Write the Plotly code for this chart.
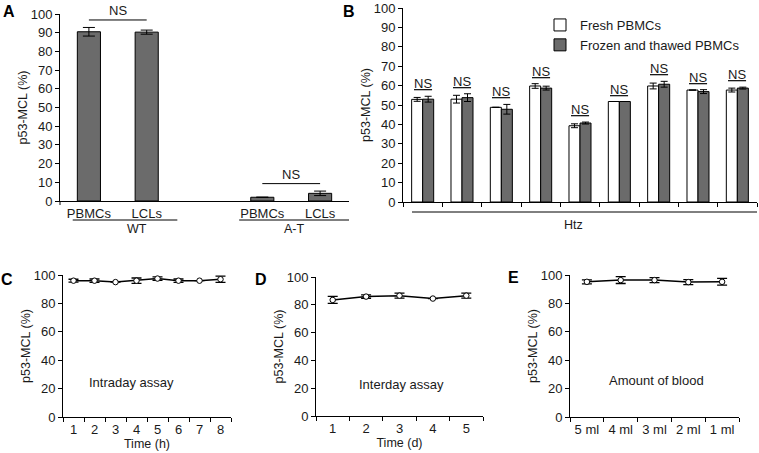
import plotly.graph_objects as go

W, H = 759, 453
FONT = "Liberation Sans, Arial, sans-serif"
INK = "#1a1a1a"
GRAY = "#6b6b6b"

# ---------------- data ----------------
# Panel A
a_groups = ["WT", "A-T"]
a_cats = ["PBMCs", "LCLs", "PBMCs", "LCLs"]
a_pos = [0, 1, 3, 4]
a_vals = [90.5, 90.3, 2.0, 4.1]
a_err = [2.3, 1.1, 0.0, 1.2]

# Panel B
b_samples = [1, 2, 3, 4, 5, 6, 7, 8, 9]
b_fresh = [52.9, 53.0, 48.8, 59.8, 39.3, 51.8, 59.8, 57.7, 57.7]
b_fresh_err = [1.0, 2.0, 0.0, 1.2, 1.0, 0.0, 1.5, 0.0, 1.0]
b_frozen = [53.0, 53.8, 47.8, 58.7, 40.7, 51.8, 60.7, 56.9, 58.7]
b_frozen_err = [1.5, 2.0, 2.5, 1.0, 0.5, 0.0, 1.5, 1.0, 0.5]

# Panel C
c_time = ["1", "2", "3", "4", "5", "6", "7", "8"]
c_vals = [96.0, 96.0, 95.0, 96.0, 97.5, 96.0, 96.0, 97.0]
c_err = [1.0, 1.2, 0.0, 1.9, 1.2, 1.2, 0.0, 2.2]

# Panel D
d_time = ["1", "2", "3", "4", "5"]
d_vals = [83.5, 85.9, 86.6, 84.5, 86.6]
d_err = [2.5, 1.2, 1.8, 0.0, 1.8]

# Panel E
e_amount = ["5 ml", "4 ml", "3 ml", "2 ml", "1 ml"]
e_vals = [95.2, 96.4, 96.4, 95.0, 95.2]
e_err = [1.4, 2.4, 1.7, 1.8, 2.4]


def px_x(p):
    return p / W


def px_y(p):
    return 1 - p / H


fig = go.Figure()

# Panel A bars
fig.add_trace(go.Bar(
    x=a_pos, y=a_vals, width=0.4, xaxis="x", yaxis="y",
    marker=dict(color=GRAY, line=dict(color="black", width=1)),
    error_y=dict(type="data", array=a_err, color="black", thickness=1, width=6),
    showlegend=False, name="A"))

# Panel B bars
fig.add_trace(go.Bar(
    x=b_samples, y=b_fresh, xaxis="x2", yaxis="y2", name="Fresh PBMCs",
    marker=dict(color="white", line=dict(color="black", width=1)),
    error_y=dict(type="data", array=b_fresh_err, color="black", thickness=1, width=3.5)))
fig.add_trace(go.Bar(
    x=b_samples, y=b_frozen, xaxis="x2", yaxis="y2", name="Frozen and thawed PBMCs",
    marker=dict(color=GRAY, line=dict(color="black", width=1)),
    error_y=dict(type="data", array=b_frozen_err, color="black", thickness=1, width=3.5)))

# Panels C, D, E
for xs, ys, es, xa, ya in [(c_time, c_vals, c_err, "x3", "y3"),
                           (d_time, d_vals, d_err, "x4", "y4"),
                           (e_amount, e_vals, e_err, "x5", "y5")]:
    fig.add_trace(go.Scatter(
        x=xs, y=ys, xaxis=xa, yaxis=ya, mode="lines+markers", showlegend=False,
        line=dict(color="black", width=1.5),
        marker=dict(symbol="circle", size=5.5, color="white", line=dict(color="black", width=1)),
        error_y=dict(type="data", array=es, color="black", thickness=1.3, width=5)))

tickfont = dict(family=FONT, size=13, color=INK)
titlefont = dict(family=FONT, size=12.5, color=INK)
base = dict(showline=True, linecolor="black", linewidth=1, showgrid=False, zeroline=False,
            ticks="outside", ticklen=4, tickcolor="black", tickfont=tickfont, automargin=False)

ytitle = dict(text="p53-MCL (%)", font=titlefont, standoff=0)

A_X0, A_X1, A_Y0 = 60, 349, 201

layout = dict(
    width=W, height=H, margin=dict(l=0, r=0, t=0, b=0, autoexpand=False),
    paper_bgcolor="white", plot_bgcolor="white",
    font=dict(family=FONT, size=13, color=INK),
    barmode="group", bargap=0.44, bargroupgap=0,
    legend=dict(x=px_x(540), y=px_y(10), xanchor="left", yanchor="top",
                font=dict(family=FONT, size=13, color=INK), bgcolor="rgba(0,0,0,0)",
                tracegroupgap=0),
    xaxis=dict(base, domain=[px_x(A_X0), px_x(A_X1)], range=[-0.5, 4.5], anchor="y",
               tickvals=a_pos, ticktext=a_cats, ticks="", ticklen=0),
    yaxis=dict(base, domain=[px_y(A_Y0), px_y(14)], range=[0, 100], dtick=10, anchor="x",
               title=ytitle),
    xaxis2=dict(base, domain=[px_x(403), px_x(757)], range=[0.5, 9.5], anchor="y2",
                tickvals=[i + 0.5 for i in range(0, 10)], showticklabels=False),
    yaxis2=dict(base, domain=[px_y(202), px_y(8)], range=[0, 100], dtick=10, anchor="x2",
                title=ytitle),
    xaxis3=dict(base, domain=[px_x(63), px_x(231)], type="category", range=[-0.5, 7.5],
                tickson="boundaries", anchor="y3",
                title=dict(text="Time (h)", font=titlefont, standoff=0)),
    yaxis3=dict(base, domain=[px_y(417), px_y(275)], range=[0, 100], dtick=20, anchor="x3",
                title=ytitle),
    xaxis4=dict(base, domain=[px_x(316), px_x(483)], type="category", range=[-0.5, 4.5],
                tickson="boundaries", anchor="y4",
                title=dict(text="Time (d)", font=titlefont, standoff=0)),
    yaxis4=dict(base, domain=[px_y(416), px_y(277)], range=[0, 100], dtick=20, anchor="x4",
                title=ytitle),
    xaxis5=dict(base, domain=[px_x(570), px_x(739)], type="category", range=[-0.5, 4.5],
                tickson="boundaries", anchor="y5"),
    yaxis5=dict(base, domain=[px_y(417), px_y(275)], range=[0, 100], dtick=20, anchor="x5",
                title=ytitle),
)
fig.update_layout(**layout)

ann = []
shapes = []

# left boundary tick of panel A category axis
shapes.append(dict(type="line", xref="paper", yref="paper", x0=px_x(A_X0), x1=px_x(A_X0),
                   y0=px_y(A_Y0), y1=px_y(A_Y0 + 4), line=dict(color="black", width=1)))

# panel letters
for letter, x, y in [("A", 9, 11), ("B", 349, 11), ("C", 7, 279), ("D", 261, 279), ("E", 513, 277)]:
    ann.append(dict(text="<b>%s</b>" % letter, x=px_x(x), y=px_y(y), xref="paper", yref="paper",
                    xanchor="center", yanchor="middle", showarrow=False,
                    font=dict(family=FONT, size=16, color="black")))

# Panel A NS brackets
for i0, i1 in [(0, 1), (2, 3)]:
    top = max(a_vals[i0] + a_err[i0], a_vals[i1] + a_err[i1]) + 4
    shapes.append(dict(type="line", xref="x", yref="y", x0=a_pos[i0], x1=a_pos[i1], y0=top, y1=top,
                       line=dict(color="black", width=1)))
    ann.append(dict(text="NS", x=(a_pos[i0] + a_pos[i1]) / 2, y=top, xref="x", yref="y",
                    yanchor="bottom", showarrow=False, yshift=0, font=dict(size=13)))

# Panel A group labels (WT, A-T)
def ax_a(v):
    return (A_X0 + (v + 0.5) * (A_X1 - A_X0) / 5.0) / W

for name, lo, hi in [(a_groups[0], -0.28, 1.53), (a_groups[1], 2.6, 4.5)]:
    shapes.append(dict(type="line", xref="paper", yref="paper", x0=ax_a(lo), x1=ax_a(hi),
                       y0=px_y(220), y1=px_y(220), line=dict(color="black", width=1)))
    ann.append(dict(text=name, x=ax_a((lo + hi) / 2), y=px_y(229), xref="paper", yref="paper",
                    yanchor="middle", showarrow=False, font=dict(size=12.5)))

# Panel B NS labels
for s, f, fe, z, ze in zip(b_samples, b_fresh, b_fresh_err, b_frozen, b_frozen_err):
    top = max(f + fe, z + ze)
    ann.append(dict(text="<u>NS</u>", x=s, y=top, xref="x2", yref="y2", yanchor="bottom",
                    showarrow=False, yshift=3, font=dict(size=13)))

# Htz group line
shapes.append(dict(type="line", xref="paper", yref="paper", x0=px_x(412), x1=px_x(757),
                   y0=px_y(212), y1=px_y(212), line=dict(color="black", width=1)))
ann.append(dict(text="Htz", x=px_x(585), y=px_y(225), xref="paper", yref="paper",
                yanchor="middle", showarrow=False, font=dict(size=12.5)))

# inner panel texts
for txt, xr, yr, xd, yd in [("Intraday assay", "x3 domain", "y3 domain", 0.41, 0.245),
                            ("Interday assay", "x4 domain", "y4 domain", 0.51, 0.23),
                            ("Amount of blood", "x5 domain", "y5 domain", 0.51, 0.26)]:
    ann.append(dict(text=txt, x=xd, y=yd, xref=xr, yref=yr, showarrow=False,
                    xanchor="center", yanchor="middle", font=dict(size=13)))

fig.update_layout(annotations=ann, shapes=shapes)
fig.write_html("out.html", config={"displayModeBar": False},
               post_script="document.body.style.margin='0';document.body.style.overflow='hidden';")
